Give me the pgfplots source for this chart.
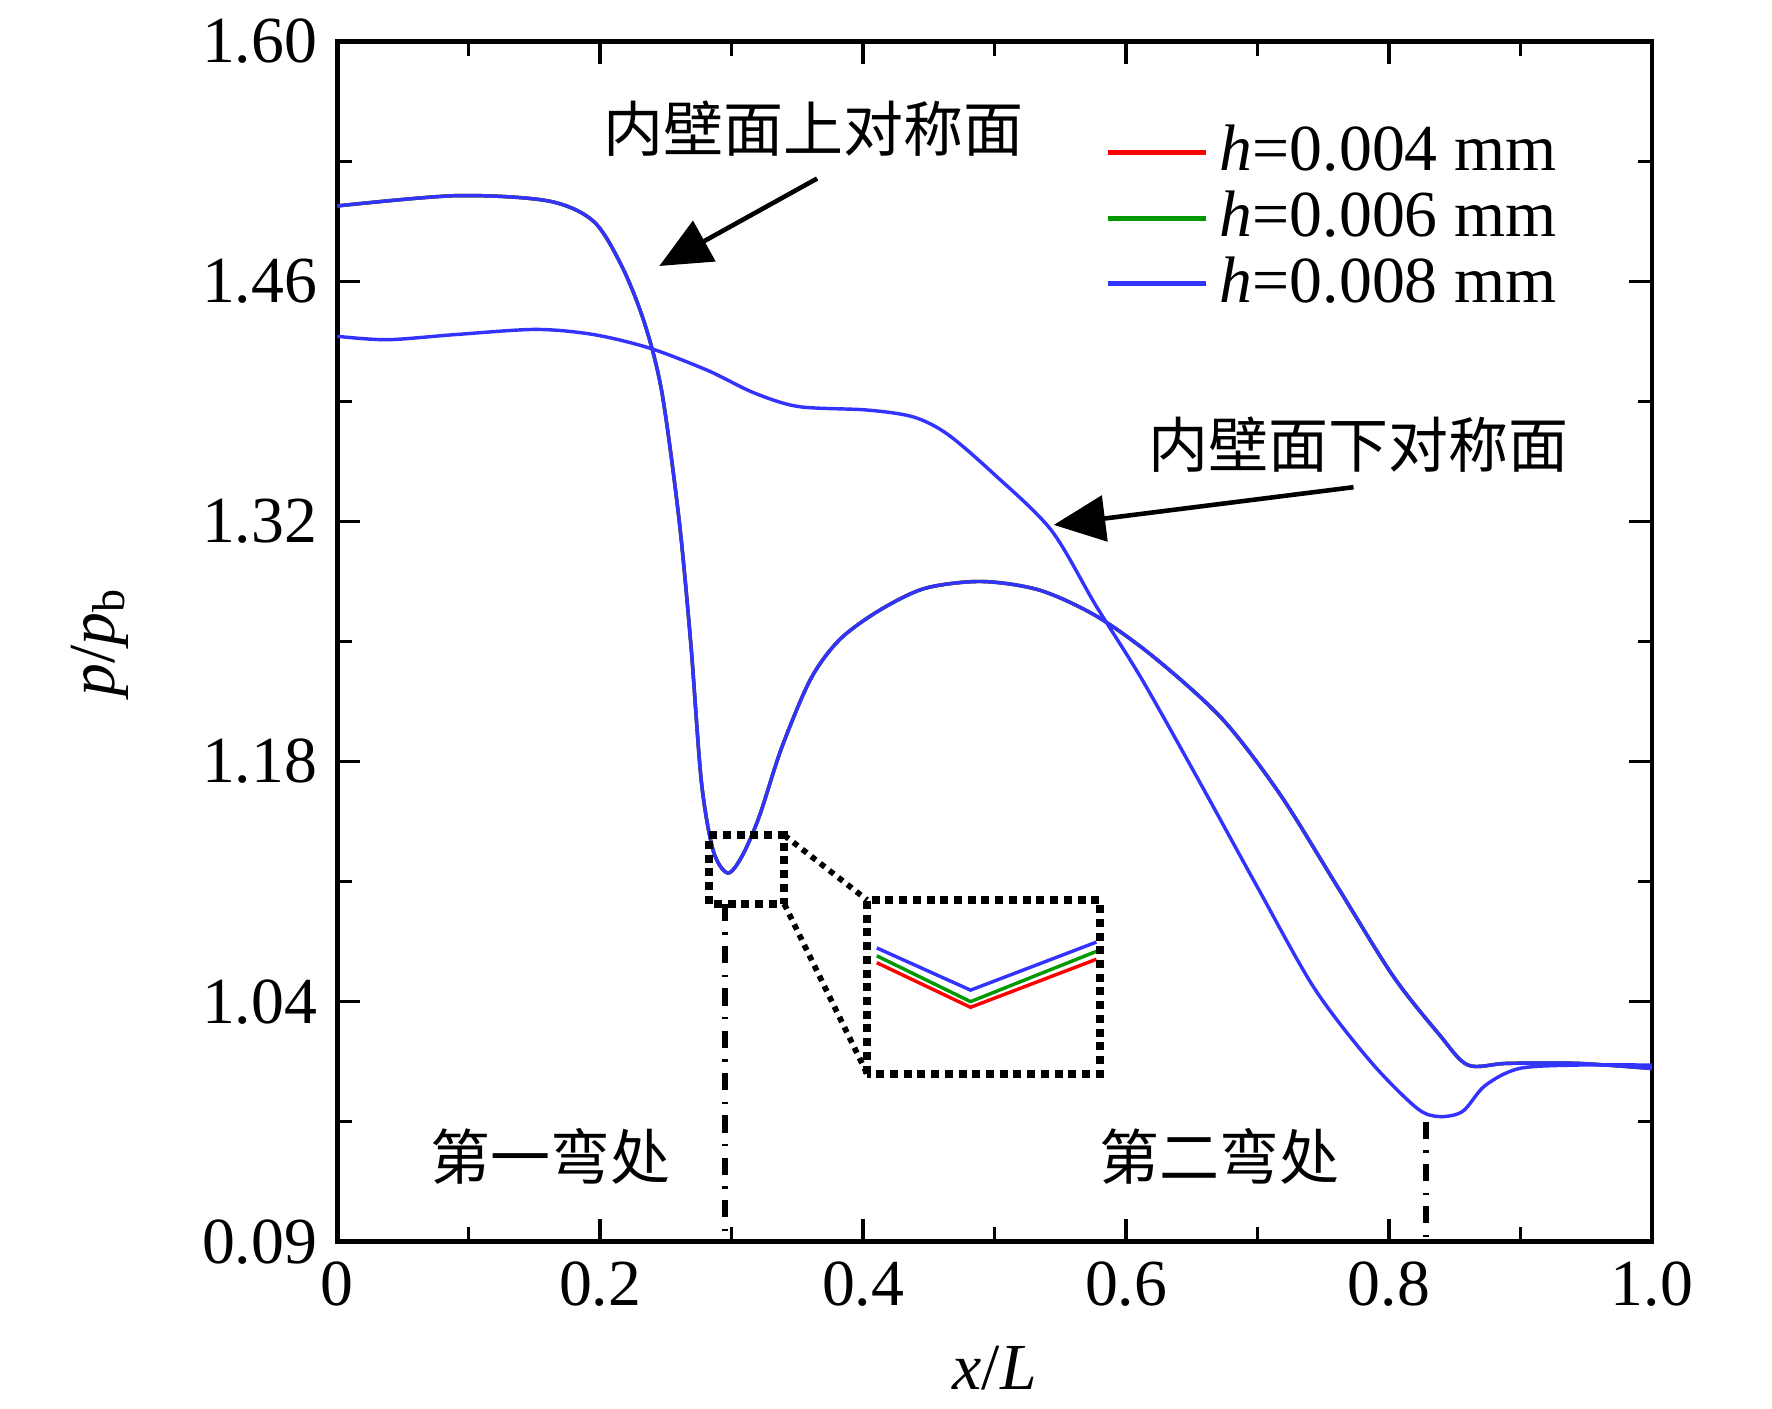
\documentclass[border=0pt]{standalone}
\usepackage{pgfplots}
\pgfplotsset{compat=1.18}
\usepackage{fontspec}
\setmainfont{Liberation Serif}
\newfontfamily\cjk{Noto Sans CJK SC}
\usetikzlibrary{arrows.meta}
\begin{document}
\begin{tikzpicture}
\pgfplotstableread{
x y
0 1.504
0.090 1.510
0.16 1.507
0.195 1.495
0.217 1.468
0.234 1.435
0.247 1.395
0.26 1.321
0.269 1.248
0.277 1.168
0.286 1.128
0.297 1.115
0.308 1.125
0.321 1.148
0.338 1.188
0.360 1.228
0.382 1.251
0.412 1.268
0.447 1.281
0.49 1.285
0.534 1.280
0.577 1.265
0.621 1.241
0.673 1.205
0.717 1.161
0.760 1.108
0.803 1.055
0.838 1.021
0.86 1.003
0.89 1.004
0.943 1.004
1.0 1.001
}\uppertab
\pgfplotstableread{
x y
0 1.428
0.038 1.426
0.09 1.429
0.151 1.432
0.195 1.429
0.238 1.421
0.282 1.408
0.317 1.395
0.351 1.387
0.403 1.385
0.438 1.381
0.464 1.371
0.499 1.348
0.543 1.315
0.577 1.271
0.612 1.228
0.656 1.168
0.699 1.108
0.743 1.048
0.786 1.005
0.821 0.978
0.838 0.973
0.856 0.976
0.873 0.991
0.899 1.001
0.943 1.003
1.0 1.003
}\lowertab
\begin{axis}[
  scale only axis, width=230pt, height=210pt,
  xmin=0, xmax=1, ymin=0.90, ymax=1.60,
  xtick={0,0.2,0.4,0.6,0.8,1.0},
  xticklabels={0,0.2,0.4,0.6,0.8,1.0},
  minor xtick={0.1,0.3,0.5,0.7,0.9},
  ytick={0.90,1.04,1.18,1.32,1.46,1.60},
  yticklabels={0.09,1.04,1.18,1.32,1.46,1.60},
  minor ytick={0.97,1.11,1.25,1.39,1.53},
  tick align=inside, tick style={black, line width=0.6pt},
  major tick length=4pt, minor tick length=2.5pt,
  axis line style={line width=0.8pt},
  ticklabel style={font=\fontsize{11.5}{14}\selectfont},
  /pgf/number format/assume math mode=true,
  xlabel={\fontsize{11.5}{14}\selectfont\textit{x}/\textit{L}},
  ylabel={\fontsize{11.5}{14}\selectfont\textit{p}/\textit{p}\textsubscript{b}},
  ylabel style={yshift=6pt},
  legend style={draw=none, fill=none, at={(0.95,0.95)}, anchor=north east,
    font=\fontsize{11.5}{14}\selectfont, row sep=-2pt},
  legend image post style={line width=0.9pt},
  legend cell align=left,
  clip=false,
]
\addplot[red, line width=0.6pt, smooth] table[x=x,y=y]{\uppertab};
\addlegendentry{\textit{h}=0.004 mm}
\addplot[green!60!black, line width=0.6pt, smooth] table[x=x,y=y]{\uppertab};
\addlegendentry{\textit{h}=0.006 mm}
\addplot[blue!80!white, line width=0.6pt, smooth] table[x=x,y=y]{\uppertab};
\addlegendentry{\textit{h}=0.008 mm}
\addplot[blue!80!white, line width=0.6pt, smooth, forget plot] table[x=x,y=y]{\lowertab};
% inset
\addplot[red, line width=0.6pt, forget plot] coordinates {(0.4104,1.0627)(0.4817,1.0367)(0.5774,1.0647)};
\addplot[green!60!black, line width=0.6pt, forget plot] coordinates {(0.4104,1.0667)(0.4817,1.0400)(0.5774,1.0693)};
\addplot[blue!80!white, line width=0.6pt, forget plot] coordinates {(0.4104,1.0713)(0.4817,1.0467)(0.5774,1.0747)};
\draw[densely dotted, line width=1.4pt] (axis cs:0.403,0.998) rectangle (axis cs:0.580,1.0993);
\draw[densely dotted, line width=1.4pt] (axis cs:0.283,1.097) rectangle (axis cs:0.340,1.137);
\draw[densely dotted, line width=1pt] (axis cs:0.340,1.137) -- (axis cs:0.403,1.0993);
\draw[densely dotted, line width=1pt] (axis cs:0.340,1.097) -- (axis cs:0.403,0.998);
\draw[dash dot, line width=1pt] (axis cs:0.295,1.097) -- (axis cs:0.295,0.90);
\draw[dash dot, line width=1pt] (axis cs:0.828,0.97) -- (axis cs:0.828,0.90);
% annotations
\node[font=\cjk\fontsize{10.5}{13}\selectfont] at (axis cs:0.362,1.549) {内壁面上对称面};
\draw[line width=0.8pt, -{Triangle[length=9pt,width=8pt]}] (axis cs:0.365,1.520) -- (axis cs:0.245,1.469);
\node[font=\cjk\fontsize{10.5}{13}\selectfont] at (axis cs:0.777,1.365) {内壁面下对称面};
\draw[line width=0.8pt, -{Triangle[length=9pt,width=8pt]}] (axis cs:0.773,1.340) -- (axis cs:0.545,1.318);
\node[font=\cjk\fontsize{10.5}{13}\selectfont] at (axis cs:0.162,0.950) {第一弯处};
\node[font=\cjk\fontsize{10.5}{13}\selectfont] at (axis cs:0.671,0.950) {第二弯处};
\end{axis}
\path (current axis.south west) ++(-59pt,-29pt) coordinate (bl);
\path (current axis.north east) ++(21pt,6pt) coordinate (tr);
\useasboundingbox (bl) rectangle (tr);
\end{tikzpicture}
\end{document}
